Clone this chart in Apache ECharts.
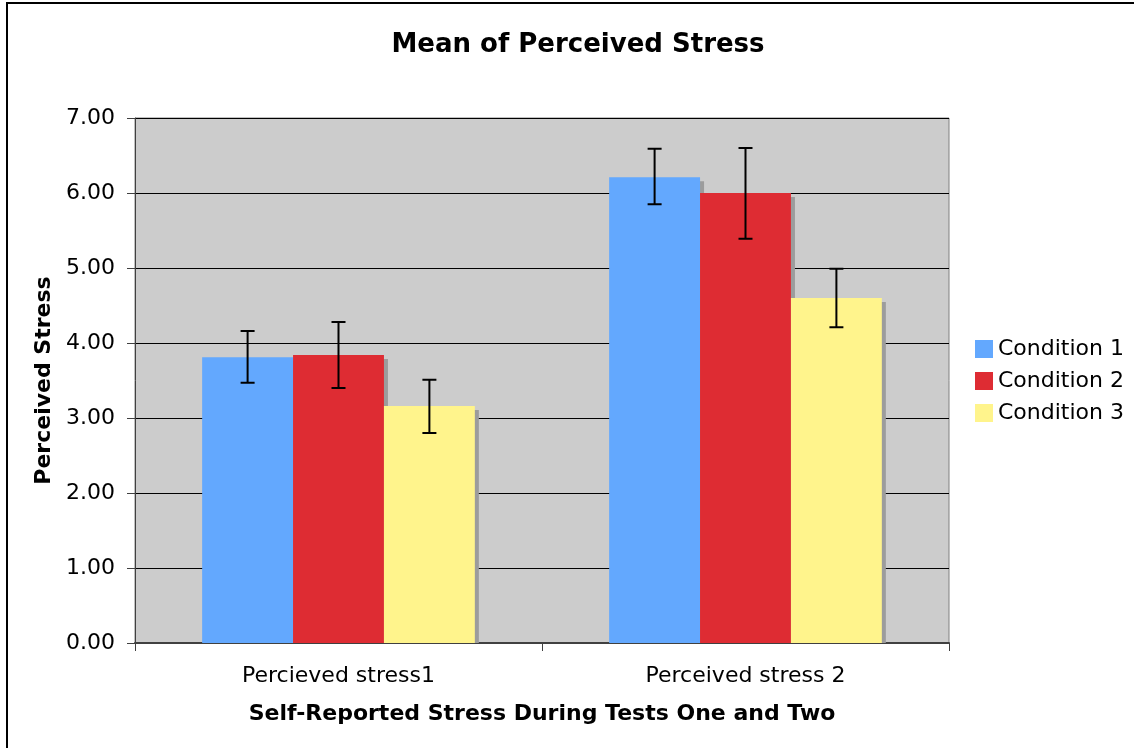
<!DOCTYPE html>
<html>
<head>
<meta charset="utf-8">
<script src="https://cdn.jsdelivr.net/npm/echarts@6/dist/echarts.min.js"></script>
<style>
  html, body { margin: 0; padding: 0; background: #fff; }
  #chart { width: 1134px; height: 748px; }
</style>
</head>
<body>
<div id="chart"></div>
<script>
const categories = ['Percieved stress1', 'Perceived stress 2'];
const seriesNames = ['Condition 1', 'Condition 2', 'Condition 3'];
const cond1 = [3.81, 6.21];
const cond2 = [3.84, 6.00];
const cond3 = [3.16, 4.60];
// error bar ranges [low, high] per category
const err1 = [[3.47, 4.16], [5.85, 6.59]];
const err2 = [[3.40, 4.28], [5.39, 6.60]];
const err3 = [[2.80, 3.51], [4.21, 4.99]];
const colors = ['#63a8fe', '#de2c33', '#fff48c'];

const catGap = 0.33;
const font = 'DejaVu Sans, Verdana, sans-serif';

function barWidth(api) {
  return api.size([1, 0])[0] * (1 - catGap) / 3;
}

// grey drop shadow to the right of each bar, clipped at the axis
function shadowSeries(data, idx) {
  return {
    type: 'custom',
    z: 1,
    silent: true,
    data: data.map((v, i) => [i, v]),
    renderItem: function (params, api) {
      const barW = barWidth(api);
      const top = api.coord([api.value(0), api.value(1)]);
      const base = api.coord([api.value(0), 0]);
      const x0 = top[0] + (idx - 1) * barW - barW / 2 + 4;
      return {
        type: 'rect',
        shape: { x: x0, y: top[1] + 4, width: barW, height: base[1] - top[1] - 4 },
        style: { fill: '#9c9c9c' }
      };
    }
  };
}

function errorSeries(errs, idx) {
  return {
    type: 'custom',
    z: 10,
    silent: true,
    data: errs.map((e, i) => [i, e[0], e[1]]),
    renderItem: function (params, api) {
      const barW = barWidth(api);
      const lo = api.coord([api.value(0), api.value(1)]);
      const hi = api.coord([api.value(0), api.value(2)]);
      const x = lo[0] + (idx - 1) * barW;
      const cap = 7;
      const style = { stroke: '#000', lineWidth: 2 };
      return {
        type: 'group',
        children: [
          { type: 'line', shape: { x1: x, y1: hi[1], x2: x, y2: lo[1] }, style: style },
          { type: 'line', shape: { x1: x - cap, y1: hi[1], x2: x + cap, y2: hi[1] }, style: style },
          { type: 'line', shape: { x1: x - cap, y1: lo[1], x2: x + cap, y2: lo[1] }, style: style }
        ]
      };
    }
  };
}

function barSeries(name, data, color) {
  return {
    name: name,
    type: 'bar',
    z: 2,
    data: data,
    barGap: '0%',
    barCategoryGap: (catGap * 100) + '%',
    itemStyle: { color: color }
  };
}

const chart = echarts.init(document.getElementById('chart'));
chart.setOption({
  animation: false,
  backgroundColor: '#ffffff',
  title: {
    text: 'Mean of Perceived Stress',
    left: 573,
    textAlign: 'center',
    top: 27,
    textStyle: { fontFamily: font, fontWeight: 'bold', fontSize: 26, color: '#000' }
  },
  graphic: [
    {
      type: 'rect',
      shape: { x: 7, y: 3, width: 1140, height: 760 },
      style: { fill: 'none', stroke: '#000', lineWidth: 2 },
      silent: true
    }
  ],
  legend: {
    orient: 'vertical',
    left: 975,
    top: 338,
    padding: 0,
    itemWidth: 18,
    itemHeight: 18,
    itemGap: 10,
    icon: 'rect',
    data: seriesNames,
    textStyle: { fontFamily: font, fontSize: 22, color: '#000' }
  },
  grid: {
    left: 135,
    right: 185,
    top: 118,
    bottom: 105,
    show: true,
    backgroundColor: '#cccccc',
    borderColor: '#808080',
    borderWidth: 1
  },
  xAxis: {
    type: 'category',
    data: categories,
    name: 'Self-Reported Stress During Tests One and Two',
    nameLocation: 'middle',
    nameGap: 60,
    nameTextStyle: { fontFamily: font, fontWeight: 'bold', fontSize: 22, color: '#000' },
    axisLine: { lineStyle: { color: '#404040', width: 2 } },
    axisTick: { show: true, length: 8, lineStyle: { color: '#404040' } },
    axisLabel: { fontFamily: font, fontSize: 22, color: '#000', margin: 22 }
  },
  yAxis: {
    type: 'value',
    min: 0,
    max: 7,
    interval: 1,
    name: 'Perceived Stress',
    nameLocation: 'middle',
    nameGap: 79,
    nameRotate: 90,
    nameTextStyle: { fontFamily: font, fontWeight: 'bold', fontSize: 22, color: '#000' },
    axisLine: { show: true, lineStyle: { color: '#404040' } },
    axisTick: { show: true, length: 8, lineStyle: { color: '#404040' } },
    axisLabel: {
      fontFamily: font, fontSize: 22, color: '#000', margin: 20,
      formatter: v => v.toFixed(2)
    },
    splitLine: { show: true, lineStyle: { color: '#000', width: 1 } }
  },
  series: [
    shadowSeries(cond1, 0),
    shadowSeries(cond2, 1),
    shadowSeries(cond3, 2),
    barSeries(seriesNames[0], cond1, colors[0]),
    barSeries(seriesNames[1], cond2, colors[1]),
    barSeries(seriesNames[2], cond3, colors[2]),
    errorSeries(err1, 0),
    errorSeries(err2, 1),
    errorSeries(err3, 2)
  ]
});
</script>
</body>
</html>
